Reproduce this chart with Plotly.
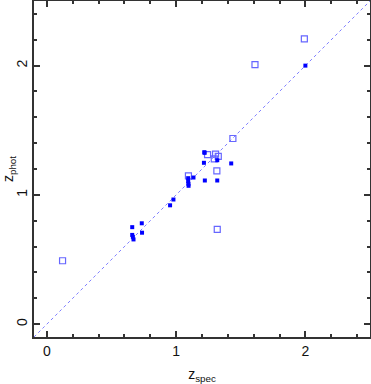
import plotly.graph_objects as go

# spectroscopic vs photometric redshifts
filled_spec = [2.00, 1.22, 1.215, 1.222, 1.318, 1.318, 1.426, 1.218, 1.134, 1.093, 1.093, 1.095,
               1.096, 0.979, 0.953, 0.734, 0.736, 0.66, 0.66, 0.665, 0.67]
filled_phot = [2.00, 1.325, 1.248, 1.111, 1.268, 1.111, 1.243, 1.33, 1.134, 1.129, 1.105, 1.085,
               1.07, 0.964, 0.919, 0.78, 0.707, 0.75, 0.69, 0.675, 0.655]

open_spec = [1.992, 1.61, 1.439, 1.243, 1.305, 1.295, 1.326, 1.315, 1.095, 1.318, 0.121]
open_phot = [2.207, 2.008, 1.436, 1.312, 1.315, 1.279, 1.297, 1.186, 1.147, 0.733, 0.49]

line_z = [-0.1, 2.5]

fig = go.Figure()
fig.add_trace(go.Scatter(
    x=line_z, y=line_z, mode="lines",
    line={"color": "#8080ff", "width": 1, "dash": "3px,3px"},
    hoverinfo="skip",
))
fig.add_trace(go.Scatter(
    x=open_spec, y=open_phot, mode="markers",
    marker={"symbol": "square-open", "size": 6, "color": "#6666ff", "line": {"width": 1.2}},
))
fig.add_trace(go.Scatter(
    x=filled_spec, y=filled_phot, mode="markers",
    marker={"symbol": "square", "size": 4, "color": "#0000ff", "line": {"width": 0}},
))

axis_common = {
    "range": [-0.1, 2.5],
    "tickvals": [0, 1, 2],
    "ticks": "inside",
    "ticklen": 6,
    "tickwidth": 1.5,
    "tickcolor": "#333333",
    "minor": {"dtick": 0.2, "tick0": 0, "ticks": "inside", "ticklen": 3, "tickwidth": 1.5,
              "tickcolor": "#333333"},
    "showline": True,
    "linecolor": "#333333",
    "linewidth": 1.5,
    "mirror": "allticks",
    "showgrid": False,
    "zeroline": False,
    "automargin": False,
    "tickfont": {"size": 14, "color": "#111111"},
}

fig.update_layout(
    width=371,
    height=384,
    margin={"l": 34, "r": 1, "t": 1, "b": 47, "autoexpand": False},
    showlegend=False,
    paper_bgcolor="white",
    plot_bgcolor="white",
    font={"family": "Liberation Sans, Arial, sans-serif", "color": "#111111"},
    xaxis={**axis_common,
           "title": {"text": "z<sub>spec</sub>", "font": {"size": 14}, "standoff": 13}},
    yaxis={**axis_common, "tickangle": -90,
           "title": {"text": "z<sub>phot</sub>", "font": {"size": 14}, "standoff": 2}},
)

# the page's default body margin would shift the figure by 8 px
fig.write_html(
    "out.html",
    config={"displayModeBar": False},
    post_script="document.body.style.margin = '0';",
)
